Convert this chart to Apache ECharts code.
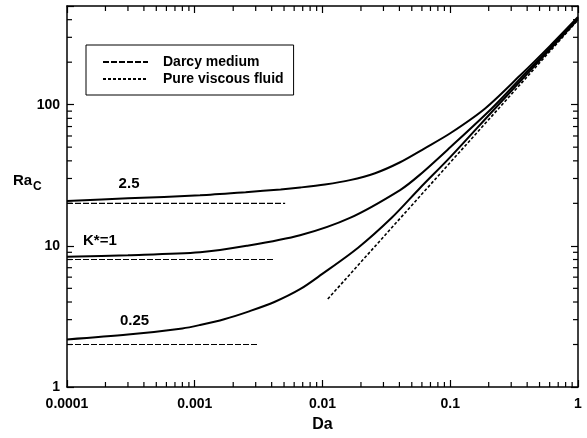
<!DOCTYPE html>
<html>
<head>
<meta charset="utf-8">
<script src="https://cdn.jsdelivr.net/npm/echarts@6/dist/echarts.min.js"></script>
<style>
html, body { margin: 0; padding: 0; background: #fff; }
#chart { width: 587px; height: 438px; }
</style>
</head>
<body>
<div id="chart"></div>
<script>
// critical Rayleigh number vs Darcy number
var da25 = [0.0001, 0.0003, 0.0011, 0.0025, 0.0047, 0.0067, 0.01046, 0.0164, 0.0258, 0.0405, 0.0631, 0.1, 0.1875, 0.3516, 0.604, 1];
var ra25 = [20.8, 21.7, 22.8, 24.0, 25.1, 25.9, 27.2, 29.2, 32.7, 39.1, 49.1, 62.7, 94, 160.7, 261, 418];

var da1 = [0.0001, 0.0003, 0.0011, 0.00255, 0.00667, 0.0164, 0.0405, 0.058, 0.1, 0.211, 0.373, 0.681, 1];
var ra1 = [8.38, 8.59, 9.01, 10.0, 11.88, 15.78, 24.85, 31.95, 49.9, 94, 161, 283, 410];

var da025 = [0.0001, 0.0003, 0.0008, 0.0011, 0.0017, 0.0027, 0.0042, 0.00667, 0.0099, 0.019, 0.0348, 0.058, 0.1, 0.224, 0.5, 1];
var ra025 = [2.17, 2.35, 2.6, 2.75, 3.02, 3.45, 4.0, 4.93, 6.3, 9.7, 15.8, 25.7, 42.5, 94, 205, 402];

// Darcy medium limits (horizontal dashes)
var darcyRa = [20, 8, 2];
var darcyStart = [0.0001, 0.0001, 0.0001];
var darcyEnd = [0.0051, 0.0041, 0.0031];

// pure viscous fluid asymptote
var pureDa = [0.011, 1];
var pureRa = [4.2, 398];

// curve labels
var labelText = ['2.5', 'K*=1', '0.25'];
var labelDa = [0.000306, 0.000181, 0.000338];
var labelRa = [27.4, 10.9, 2.92];

var xTickPow = [-4, -3, -2, -1, 0];
var xTickLabels = ['0.0001', '0.001', '0.01', '0.1', '1'];
var yTickPow = [0, 1, 2];
var yTickLabels = ['1', '10', '100'];

var FONT = '"Liberation Sans", Arial, sans-serif';

function zip(a, b) {
    var out = [];
    for (var i = 0; i < a.length; i++) out.push([a[i], b[i]]);
    return out;
}

function decadeLabel(pows, labels) {
    return function (v) {
        var l = Math.log10(v);
        var k = Math.round(l);
        if (Math.abs(l - k) > 1e-6) return '';
        var i = pows.indexOf(k);
        return i >= 0 ? labels[i] : '';
    };
}

// minor tick positions 2..9 in each decade
var xMinor = [];
for (var p = -4; p < 0; p++) {
    for (var m = 2; m <= 9; m++) xMinor.push(m * Math.pow(10, p));
}
var yMinor = [];
for (var q = 0; q <= 2; q++) {
    for (var n = 2; n <= 9; n++) {
        var v = n * Math.pow(10, q);
        if (v < 500) yMinor.push(v);
    }
}

var tickStyle = { stroke: '#000', lineWidth: 1.2 };

function axisCommon(pos, min, max, showLabel, fmt) {
    return {
        type: 'log',
        logBase: 10,
        min: min,
        max: max,
        position: pos,
        axisLine: { show: true, onZero: false, lineStyle: { color: '#000', width: 1.5 } },
        axisTick: { show: true, inside: true, length: 7, lineStyle: { color: '#000', width: 1.2 } },
        axisLabel: {
            show: showLabel,
            formatter: fmt,
            fontFamily: FONT,
            fontWeight: 'bold',
            fontSize: 14,
            color: '#000'
        },
        splitLine: { show: false },
        minorTick: { show: false },
        minorSplitLine: { show: false }
    };
}

var xBottom = axisCommon('bottom', 0.0001, 1, true, decadeLabel(xTickPow, xTickLabels));
xBottom.axisLabel.margin = 10;
xBottom.name = 'Da';
xBottom.nameLocation = 'middle';
xBottom.nameGap = 30;
xBottom.nameTextStyle = { fontFamily: FONT, fontWeight: 'bold', fontSize: 16, color: '#000' };
var xTop = axisCommon('top', 0.0001, 1, false, null);

var yLeft = axisCommon('left', 1, 500, true, decadeLabel(yTickPow, yTickLabels));
yLeft.axisLabel.margin = 7;
var yRight = axisCommon('right', 1, 500, false, null);

var darcySeries = [];
for (var i = 0; i < darcyRa.length; i++) {
    darcySeries.push({
        name: 'Darcy medium',
        type: 'line',
        xAxisIndex: 0,
        yAxisIndex: 0,
        symbol: 'none',
        data: [[darcyStart[i], darcyRa[i]], [darcyEnd[i], darcyRa[i]]],
        itemStyle: { color: '#000' },
        lineStyle: { color: '#000', width: 1.2, type: [6, 2] },
        z: 2
    });
}

function solid(da, ra) {
    return {
        type: 'line',
        xAxisIndex: 0,
        yAxisIndex: 0,
        symbol: 'none',
        smooth: 0.3,
        data: zip(da, ra),
        itemStyle: { color: '#000' },
        lineStyle: { color: '#000', width: 2 },
        z: 3
    };
}

var series = darcySeries.concat([
    {
        name: 'Pure viscous fluid',
        type: 'line',
        symbol: 'none',
        data: zip(pureDa, pureRa),
        itemStyle: { color: '#000' },
        lineStyle: { color: '#000', width: 1.6, type: [3, 2] },
        z: 2
    },
    solid(da25, ra25),
    solid(da1, ra1),
    solid(da025, ra025),
    {
        type: 'scatter',
        symbolSize: 0,
        silent: true,
        itemStyle: { opacity: 1, color: '#000' },
        data: labelText.map(function (t, k) { return { name: t, value: [labelDa[k], labelRa[k]] }; }),
        label: {
            show: true,
            position: 'inside',
            formatter: '{b}',
            fontFamily: FONT,
            fontWeight: 'bold',
            fontSize: 15,
            color: '#000',
            opacity: 1,
            textBorderWidth: 0
        }
    },
    {
        type: 'custom',
        silent: true,
        clip: false,
        data: xMinor.map(function (x) { return [x, 1]; }),
        encode: { x: 0, y: 1 },
        renderItem: function (params, api) {
            var x = api.value(0);
            var b = api.coord([x, 1]);
            var t = api.coord([x, 500]);
            return {
                type: 'group',
                children: [
                    { type: 'line', shape: { x1: b[0], y1: b[1], x2: b[0], y2: b[1] - 5 }, style: tickStyle },
                    { type: 'line', shape: { x1: t[0], y1: t[1], x2: t[0], y2: t[1] + 5 }, style: tickStyle }
                ]
            };
        }
    },
    {
        type: 'custom',
        silent: true,
        clip: false,
        data: yMinor.map(function (y) { return [0.0001, y]; }),
        encode: { x: 0, y: 1 },
        renderItem: function (params, api) {
            var y = api.value(1);
            var l = api.coord([0.0001, y]);
            var r = api.coord([1, y]);
            return {
                type: 'group',
                children: [
                    { type: 'line', shape: { x1: l[0], y1: l[1], x2: l[0] + 5, y2: l[1] }, style: tickStyle },
                    { type: 'line', shape: { x1: r[0], y1: r[1], x2: r[0] - 5, y2: r[1] }, style: tickStyle }
                ]
            };
        }
    }
]);

var chart = echarts.init(document.getElementById('chart'), null, { renderer: 'canvas' });
chart.setOption({
    animation: false,
    backgroundColor: '#fff',
    grid: { left: 67, right: 9, top: 6, bottom: 49, containLabel: false },
    legend: {
        data: ['Darcy medium', 'Pure viscous fluid'],
        orient: 'vertical',
        left: 86,
        top: 45,
        itemWidth: 45,
        itemHeight: 14,
        itemGap: 3,
        padding: [10, 10, 9, 16],
        borderColor: '#000',
        borderWidth: 1,
        backgroundColor: '#fff',
        selectedMode: false,
        itemStyle: { opacity: 0 },
        textStyle: { fontFamily: FONT, fontWeight: 'bold', fontSize: 14, color: '#000', padding: [0, 0, 0, 10] }
    },
    graphic: [
        { type: 'text', x: 13, y: 181, style: { text: 'Ra', fontFamily: FONT, fontWeight: 'bold', fontSize: 15, fill: '#000', verticalAlign: 'middle' } },
        { type: 'text', x: 33, y: 187, style: { text: 'C', fontFamily: FONT, fontWeight: 'bold', fontSize: 12, fill: '#000', verticalAlign: 'middle' } }
    ],
    xAxis: [xBottom, xTop],
    yAxis: [yLeft, yRight],
    series: series
});
</script>
</body>
</html>
